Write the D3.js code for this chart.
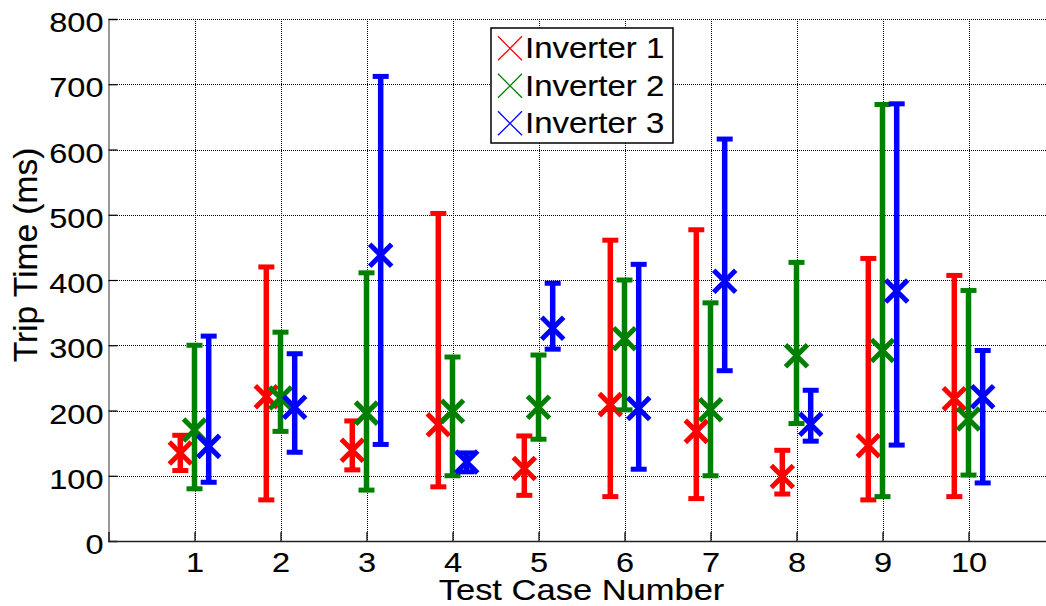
<!DOCTYPE html>
<html>
<head>
<meta charset="utf-8">
<script src="https://cdn.jsdelivr.net/npm/d3@7"></script>
<style>
html, body { margin: 0; padding: 0; background: #fff; }
svg { display: block; }
text { font-family: "Liberation Sans", Arial, sans-serif; fill: #000; stroke: #000; stroke-width: 0.15px; }
</style>
</head>
<body>
<svg id="chart" width="1046" height="606"></svg>
<script>
const cases = [1, 2, 3, 4, 5, 6, 7, 8, 9, 10];
const seriesNames = ["Inverter 1", "Inverter 2", "Inverter 3"];
const seriesColors = ["#ff0000", "#008000", "#0000ff"];
const inv1Mean = [135, 221, 139, 178, 111, 209, 168, 99, 146, 218];
const inv1Min  = [108, 63, 109, 83, 70, 68, 65, 72, 63, 68];
const inv1Max  = [162, 420, 184, 502, 161, 461, 477, 139, 433, 407];
const inv2Mean = [170, 219, 196, 199, 205, 310, 201, 284, 292, 187];
const inv2Min  = [80, 168, 78, 100, 156, 201, 100, 180, 68, 101];
const inv2Max  = [300, 320, 411, 282, 285, 400, 365, 427, 669, 384];
const inv3Mean = [145, 205, 438, 121, 326, 203, 398, 179, 383, 221];
const inv3Min  = [90, 136, 148, 106, 294, 110, 261, 153, 147, 89];
const inv3Max  = [314, 287, 712, 135, 395, 424, 616, 231, 670, 292];
const yTicks = [0, 100, 200, 300, 400, 500, 600, 700, 800];
const seriesOffsets = [-0.165, 0, 0.165];

const series = [
  { name: seriesNames[0], color: seriesColors[0], mean: inv1Mean, min: inv1Min, max: inv1Max, off: seriesOffsets[0] },
  { name: seriesNames[1], color: seriesColors[1], mean: inv2Mean, min: inv2Min, max: inv2Max, off: seriesOffsets[1] },
  { name: seriesNames[2], color: seriesColors[2], mean: inv3Mean, min: inv3Min, max: inv3Max, off: seriesOffsets[2] }
];

const svg = d3.select("#chart");
const pLeft = 108.5, pRight = 1054.5, pTop = 19, pBottom = 541;
const x = d3.scaleLinear().domain([0, 11]).range([pLeft, pRight]);
const y = d3.scaleLinear().domain([0, 800]).range([pBottom, pTop]);
const vs = 0.87; // vertical squash of the reference's text
const px = v => Math.round(v) + 0.5;

// grid
const grid = svg.append("g").attr("shape-rendering", "crispEdges");
grid.selectAll("line.h").data(yTicks.slice(1)).enter().append("line")
  .attr("x1", pLeft).attr("x2", pRight)
  .attr("y1", d => px(y(d))).attr("y2", d => px(y(d)))
  .attr("stroke", "#000").attr("stroke-width", 1).attr("stroke-dasharray", "1,1");
grid.selectAll("line.v").data(cases).enter().append("line")
  .attr("x1", d => px(x(d))).attr("x2", d => px(x(d)))
  .attr("y1", pTop).attr("y2", pBottom)
  .attr("stroke", "#000").attr("stroke-width", 1).attr("stroke-dasharray", "1,1");

// axes
const yAxis = d3.axisLeft(y).tickValues(yTicks).tickSize(-9).tickPadding(6);
const gy = svg.append("g").attr("transform", `translate(${pLeft},0)`).call(yAxis);
gy.select(".domain").attr("stroke", "#777").attr("stroke-width", 1.5);
gy.selectAll(".tick line").attr("stroke", "#000").attr("stroke-width", 1.2);
gy.selectAll(".tick text").attr("font-size", 32.5).attr("x", -5).attr("y", 12.5 / vs).attr("dy", null)
  .attr("transform", `scale(1,${vs})`)
  .style("font-family", "'Liberation Sans', Arial, sans-serif").attr("fill", "#000");

const xAxis = d3.axisBottom(x).tickValues(cases).tickSize(-9).tickPadding(6).tickFormat(d3.format("d"));
const gx = svg.append("g").attr("transform", `translate(0,${pBottom})`).call(xAxis);
gx.select(".domain").attr("stroke", "#222").attr("stroke-width", 1.5);
gx.selectAll(".tick line").attr("stroke", "#000").attr("stroke-width", 1.2);
gx.selectAll(".tick text").attr("font-size", 32.5).attr("y", 31.5 / vs).attr("dy", null)
  .attr("transform", `scale(1,${vs})`)
  .style("font-family", "'Liberation Sans', Arial, sans-serif").attr("fill", "#000");

// axis titles
svg.append("text").attr("transform", `translate(${x(5.5)},599.5) scale(1,${vs})`)
  .attr("text-anchor", "middle").attr("font-size", 34.5).text("Test Case Number");
svg.append("text").attr("transform", `translate(37,255) rotate(-90)`)
  .attr("text-anchor", "middle").attr("font-size", 33.5).text("Trip Time (ms)");

// error bars and markers
const capW = 8, ms = 11;
series.forEach(s => {
  const g = svg.append("g");
  const data = cases.map((c, i) => ({ c, mean: s.mean[i], lo: s.min[i], hi: s.max[i] }));
  g.selectAll("line.bar").data(data).enter().append("line")
    .attr("x1", d => x(d.c + s.off)).attr("x2", d => x(d.c + s.off))
    .attr("y1", d => y(d.lo)).attr("y2", d => y(d.hi))
    .attr("stroke", s.color).attr("stroke-width", 5.5);
  ["lo", "hi"].forEach(k => {
    g.selectAll("line.cap" + k).data(data).enter().append("line")
      .attr("x1", d => x(d.c + s.off) - capW).attr("x2", d => x(d.c + s.off) + capW)
      .attr("y1", d => y(d[k])).attr("y2", d => y(d[k]))
      .attr("stroke", s.color).attr("stroke-width", 5);
  });
  g.selectAll("path.mk").data(data).enter().append("path")
    .attr("d", d => {
      const cx = x(d.c + s.off), cy = y(d.mean);
      return `M${cx - ms},${cy - ms}L${cx + ms},${cy + ms}M${cx - ms},${cy + ms}L${cx + ms},${cy - ms}`;
    })
    .attr("stroke", s.color).attr("stroke-width", 5).attr("fill", "none");
});

// legend
const lg = svg.append("g");
lg.append("rect").attr("x", 491).attr("y", 28).attr("width", 182).attr("height", 115)
  .attr("fill", "#fff").attr("stroke", "#000").attr("stroke-width", 1.5);
series.forEach((s, i) => {
  const cy = 48.3 + i * 37.5;
  lg.append("path")
    .attr("d", `M498,${cy - 12}L522,${cy + 12}M498,${cy + 12}L522,${cy - 12}`)
    .attr("stroke", s.color).attr("stroke-width", 1.3).attr("fill", "none");
  lg.append("text").attr("transform", `translate(525,${58.3 + i * 37.5}) scale(1,${vs})`)
    .attr("font-size", 33).text(s.name);
});
</script>
</body>
</html>
